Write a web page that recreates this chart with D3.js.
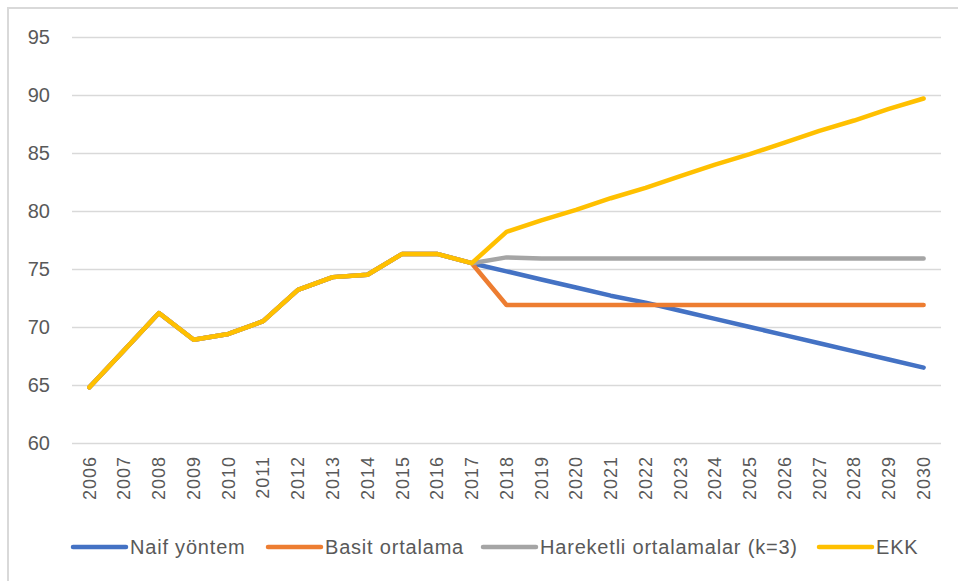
<!DOCTYPE html>
<html>
<head>
<meta charset="utf-8">
<script src="https://cdn.jsdelivr.net/npm/d3@7"></script>
<style>
  body { margin: 0; background: #fff; }
  svg { display: block; }
</style>
</head>
<body>
<div id="chart"></div>
<script>
// Chart data
var years = ["2006","2007","2008","2009","2010","2011","2012","2013","2014","2015","2016","2017",
  "2018","2019","2020","2021","2022","2023","2024","2025","2026","2027","2028","2029","2030"];

// observed part, shared by all four series
var observed = [64.8, 68.0, 71.2, 68.9, 69.4, 70.5, 73.2, 74.3, 74.5, 76.3, 76.3, 75.5];

// forecasts 2018-2030
var naif = [74.8, 74.1, 73.4, 72.7, 72.1, 71.4, 70.7, 70.0, 69.3, 68.6, 67.9, 67.2, 66.5];
var basit = [71.9, 71.9, 71.9, 71.9, 71.9, 71.9, 71.9, 71.9, 71.9, 71.9, 71.9, 71.9, 71.9];
var hareketli = [76.0, 75.9, 75.9, 75.9, 75.9, 75.9, 75.9, 75.9, 75.9, 75.9, 75.9, 75.9, 75.9];
var ekk = [78.2, 79.2, 80.1, 81.1, 82.0, 83.0, 84.0, 84.9, 85.9, 86.9, 87.8, 88.8, 89.7];

var seriesNames = ["Naif yöntem", "Basit ortalama", "Hareketli ortalamalar (k=3)", "EKK"];
var seriesColors = ["#4472C4", "#ED7D31", "#A5A5A5", "#FFC000"];
var yTicks = [60, 65, 70, 75, 80, 85, 90, 95];

var series = [naif, basit, hareketli, ekk].map(function(f, i) {
  return {
    name: seriesNames[i],
    color: seriesColors[i],
    values: observed.concat(f).map(function(v, j) { return { year: years[j], value: v }; })
  };
});

var svgWidth = 958;
var svgHeight = 581;

var svg = d3.select("#chart")
  .append("svg")
  .attr("width", svgWidth)
  .attr("height", svgHeight);

// outer chart border (right and bottom fall outside the picture)
svg.append("rect")
  .attr("x", 8)
  .attr("y", 8)
  .attr("width", 1000)
  .attr("height", 1000)
  .attr("fill", "none")
  .attr("stroke", "#d9d9d9")
  .attr("stroke-width", 2);

var plot = { left: 72, right: 941, top: 37, bottom: 443 };

var xScale = d3.scaleBand()
  .domain(years)
  .range([plot.left, plot.right]);

var yScale = d3.scaleLinear()
  .domain([60, 95])
  .range([plot.bottom, plot.top]);

// gridlines + y labels
var leftAxis = d3.axisLeft(yScale)
  .tickValues(yTicks)
  .tickSize(-(plot.right - plot.left))
  .tickPadding(22);

var yAxis = svg.append("g")
  .attr("transform", `translate(${plot.left}, 0)`)
  .call(leftAxis);

yAxis.select(".domain").remove();
yAxis.selectAll(".tick line")
  .attr("stroke", "#d9d9d9")
  .attr("stroke-width", 1.3);
yAxis.selectAll(".tick text")
  .attr("fill", "#595959")
  .style("font-family", "'Liberation Sans', Arial, sans-serif")
  .style("font-size", "20px");

// x labels, rotated
var bottomAxis = d3.axisBottom(xScale).tickSize(0);

var xAxis = svg.append("g")
  .attr("transform", `translate(0, ${plot.bottom})`)
  .call(bottomAxis);

xAxis.select(".domain").remove();
xAxis.selectAll(".tick text")
  .attr("fill", "#595959")
  .style("font-family", "'Liberation Sans', Arial, sans-serif")
  .style("font-size", "18px")
  .style("letter-spacing", "1px")
  .attr("text-anchor", "end")
  .attr("transform", "rotate(-90)")
  .attr("x", -13)
  .attr("y", 0)
  .attr("dy", "0.35em");

// lines
var line = d3.line()
  .x(d => xScale(d.year) + xScale.bandwidth() / 2)
  .y(d => yScale(d.value));

svg.selectAll(".series")
  .data(series)
  .enter()
  .append("path")
  .attr("class", "series")
  .attr("d", d => line(d.values))
  .attr("fill", "none")
  .attr("stroke", d => d.color)
  .attr("stroke-width", 4.5)
  .attr("stroke-linejoin", "round")
  .attr("stroke-linecap", "round");

// legend
var legendX = [73, 268, 483, 819];
var legendY = 547;

var legend = svg.selectAll(".legend")
  .data(series)
  .enter()
  .append("g")
  .attr("class", "legend")
  .attr("transform", (d, i) => `translate(${legendX[i]}, ${legendY})`);

legend.append("line")
  .attr("x1", 0)
  .attr("x2", 53)
  .attr("y1", 0)
  .attr("y2", 0)
  .attr("stroke", d => d.color)
  .attr("stroke-width", 4.5)
  .attr("stroke-linecap", "round");

legend.append("text")
  .attr("x", 57)
  .attr("y", 0)
  .attr("dy", "0.35em")
  .attr("fill", "#595959")
  .style("font-family", "'Liberation Sans', Arial, sans-serif")
  .style("font-size", "20px")
  .style("letter-spacing", "0.8px")
  .text(d => d.name);
</script>
</body>
</html>
